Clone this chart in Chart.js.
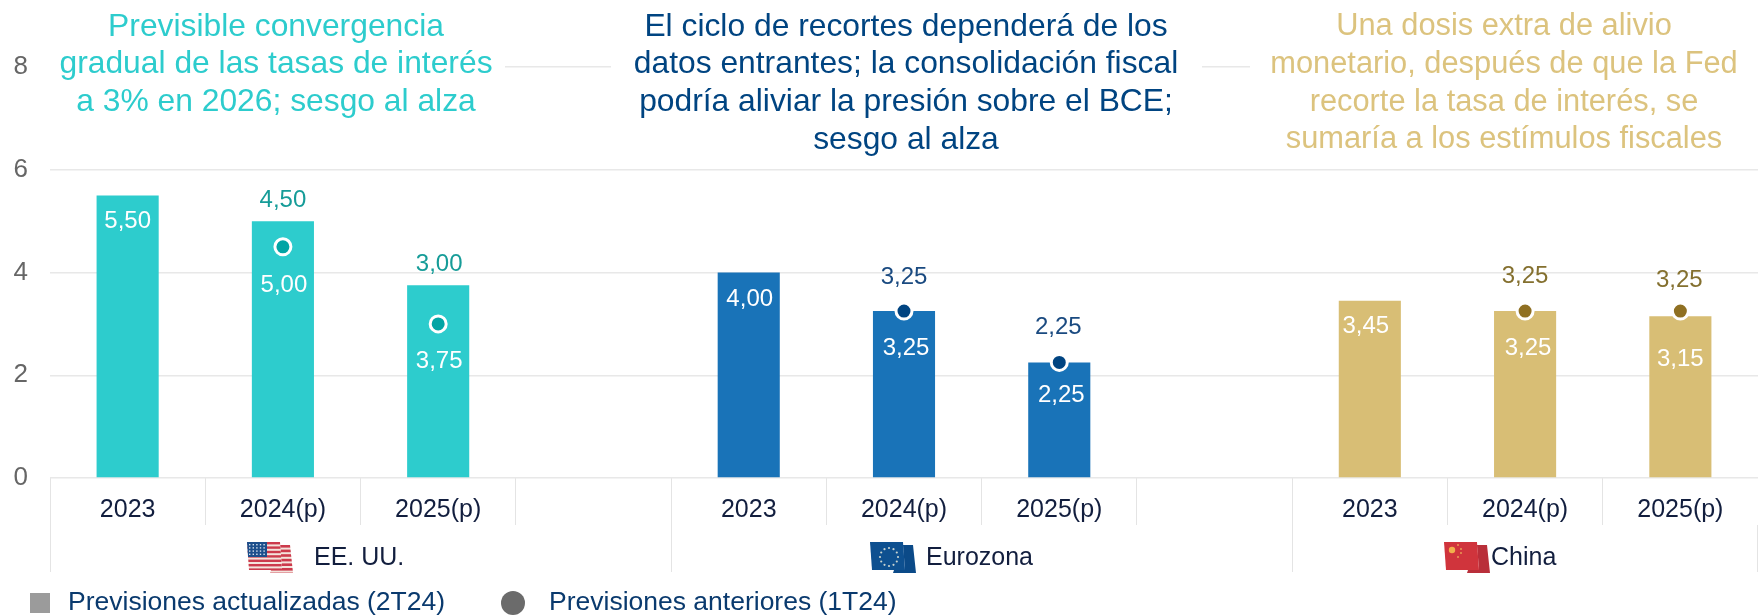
<!DOCTYPE html>
<html><head><meta charset="utf-8">
<style>html,body{margin:0;padding:0;background:#fff}#w{position:relative;width:1758px;height:616px}</style>
<script src="https://cdn.jsdelivr.net/npm/chart.js@4"></script></head>
<body><div id="w"><canvas id="c" width="1758" height="616"></canvas></div>
<script>
const categories = ['2023','2024(p)','2025(p)','','2023','2024(p)','2025(p)','','2023','2024(p)','2025(p)'];
const updated = [5.50,5.00,3.75,null,4.00,3.25,2.25,null,3.45,3.25,3.15];
const previous = [null,4.50,3.00,null,null,3.25,2.25,null,null,3.25,3.25];
const groupNames = ['EE. UU.','Eurozona','China'];
const yTicks = [0,2,4,6,8];
const legendLabels = ['Previsiones actualizadas (2T24)','Previsiones anteriores (1T24)'];
const titles = [
 ['Previsible convergencia','gradual de las tasas de interés','a 3% en 2026; sesgo al alza'],
 ['El ciclo de recortes dependerá de los','datos entrantes; la consolidación fiscal','podría aliviar la presión sobre el BCE;','sesgo al alza'],
 ['Una dosis extra de alivio','monetario, después de que la Fed','recorte la tasa de interés, se','sumaría a los estímulos fiscales']
];
const FONT='"Liberation Sans",Arial,sans-serif';
const barCol=['#2DCCCD','#1973B8','#D8BE75'], dotCol=['#02A5A5','#004481','#8F7022'], lblCol=['#169C98','#1A4A80','#84702F'], titleCol=['#2DCCCD','#004481','#DCC37E'];
const groupOf=i=>i<4?0:i<8?1:2;
const barLabelOff=[[0,26],[1,64],[1,76],null,[1,27],[2,37],[2,33],null,[-4,26],[3,37],[0,43]];
const dotLabelOff=[null,[0,-46],[1,-60],null,null,[0,-34],[-1,-35],null,null,[0,-35],[-1,-31]];
const titleBoxes=[[50,505],[611,1202],[1250,1758]];
const titleCenters=[276,906,1504];
const titleSizes=[31.8,31.8,30.8];

function poly(c,x,y,pts){c.beginPath();pts.forEach((p,i)=>i?c.lineTo(x+p[0],y+p[1]):c.moveTo(x+p[0],y+p[1]));c.closePath();}
function flag(c,k,x,y){
  const main=[[0,0],[33,0],[35,28],[2,28]], back=[[33,3],[43,3],[46,31],[23,31],[24,28],[35,28]];
  c.save();
  if(k==0){
    c.save();poly(c,x,y,back);c.clip();c.fillStyle='#F3E3DC';c.fillRect(x,y,50,35);c.fillStyle='#CC3A4C';for(let i=0;i<7;i++)c.fillRect(x,y+3+i*4.6,50,2.6);c.restore();
    c.save();poly(c,x,y,main);c.clip();c.fillStyle='#F3E3DC';c.fillRect(x,y,40,30);c.fillStyle='#CC3A4C';for(let i=0;i<7;i++)c.fillRect(x,y+i*4.4,40,2.4);
    c.fillStyle='#1C4F8C';c.fillRect(x,y,20,15);c.fillStyle='#D8E2EE';for(let i=0;i<5;i++)for(let j=0;j<4;j++)c.fillRect(x+2+i*3.6,y+2+j*3.2,1.4,1.4);c.restore();
  } else {
    c.fillStyle=k==1?'#0B4A88':'#B92F3A';poly(c,x,y,back);c.fill();
    c.fillStyle=k==1?'#0E5090':'#D0343C';poly(c,x,y,main);c.fill();
    if(k==1){c.fillStyle='#C8D3CF';for(let i=0;i<12;i++){const a=i*Math.PI/6;c.beginPath();c.arc(x+19+9*Math.cos(a),y+15+9*Math.sin(a),1.1,0,7);c.fill();}}
    else{c.fillStyle='#F2B04C';c.beginPath();c.arc(x+8,y+8,3.2,0,7);c.fill();c.fillStyle='#E89A55';for(const p of [[14,3],[17,7],[17,11],[14,15]]){c.beginPath();c.arc(x+p[0],y+p[1],1,0,7);c.fill();}}
  }
  c.restore();
}
const overlay={id:'overlay',
 beforeDatasetsDraw(ch){const c=ch.ctx,a=ch.chartArea;c.save();c.fillStyle='#fff';
   titleBoxes.forEach(b=>c.fillRect(b[0],a.top-12,b[1]-b[0],24));c.restore();},
 afterDraw(ch){
  const c=ch.ctx,x=ch.scales.x,a=ch.chartArea,step=(x.getPixelForValue(1)-x.getPixelForValue(0));
  c.save();c.textAlign='center';c.textBaseline='middle';
  titles.forEach((t,g)=>{c.font=titleSizes[g]+'px '+FONT;c.fillStyle=titleCol[g];t.forEach((s,i)=>c.fillText(s,titleCenters[g],27+i*37.6));});
  const edges=[0,4,8,11];c.strokeStyle='#e4e4e4';c.lineWidth=1;
  edges.forEach(i=>{const px=Math.round(x.getPixelForValue(0)-step/2+i*step-.5)+.5;c.beginPath();c.moveTo(px,a.bottom+47);c.lineTo(px,572);c.stroke();});
  c.font='25px '+FONT;c.fillStyle='#121E3E';c.textAlign='left';
  const gx=[[247,314],[870,926],[1444,1491]];
  groupNames.forEach((n,g)=>{flag(c,g,gx[g][0],542);c.fillText(n,gx[g][1],558);});
  c.textAlign='center';c.font='24px '+FONT;
  ch.getDatasetMeta(0).data.forEach((el,i)=>{ if(updated[i]==null)return;const o=barLabelOff[i];c.fillStyle='#fff';c.fillText(updated[i].toFixed(2).replace('.',','),el.x+o[0],el.y+o[1]);});
  ch.getDatasetMeta(1).data.forEach((el,i)=>{ if(previous[i]==null)return;const o=dotLabelOff[i];c.fillStyle=lblCol[groupOf(i)];c.fillText(previous[i].toFixed(2).replace('.',','),el.x+o[0],el.y+o[1]);});
  c.textAlign='left';c.fillStyle='#9B9B9B';c.fillRect(30,593,20,20);
  c.fillStyle='#6B6B6B';c.beginPath();c.arc(513,603,12,0,7);c.fill();
  c.font='26.5px '+FONT;c.fillStyle='#0A3A6E';
  c.fillText(legendLabels[0],68,603);c.fillText(legendLabels[1],549,603);
  c.restore();
 }};
new Chart(document.getElementById('c'),{
 type:'bar',
 data:{labels:categories,datasets:[
  {type:'bar',label:legendLabels[0],data:updated,order:2,backgroundColor:updated.map((v,i)=>barCol[groupOf(i)]),barPercentage:.4,categoryPercentage:1},
  {type:'line',label:legendLabels[1],data:previous,order:1,showLine:false,pointRadius:8,pointBorderWidth:3,pointBorderColor:'#fff',pointBackgroundColor:previous.map((v,i)=>dotCol[groupOf(i)])}
 ]},
 options:{responsive:false,animation:false,
  layout:{autoPadding:false,padding:{top:67,right:0,left:0,bottom:0}},
  plugins:{legend:{display:false},tooltip:{enabled:false}},
  scales:{
   x:{offset:true,afterFit(s){s.height=138},
      grid:{offset:true,drawOnChartArea:false,drawTicks:true,tickLength:47,color:'#e4e4e4'},border:{display:false},
      ticks:{autoSkip:false,maxRotation:0,padding:-30,color:'#121E3E',font:{family:FONT,size:25}}},
   y:{min:0,max:8,afterFit(s){s.width=50},
      afterBuildTicks(s){s.ticks=yTicks.map(v=>({value:v}))},
      grid:{color:'#e8e8e8',lineWidth:1.5,drawTicks:false},border:{display:false},
      ticks:{padding:22,color:'#666',font:{family:FONT,size:26}}}
  }},
 plugins:[overlay]});
</script></body></html>
